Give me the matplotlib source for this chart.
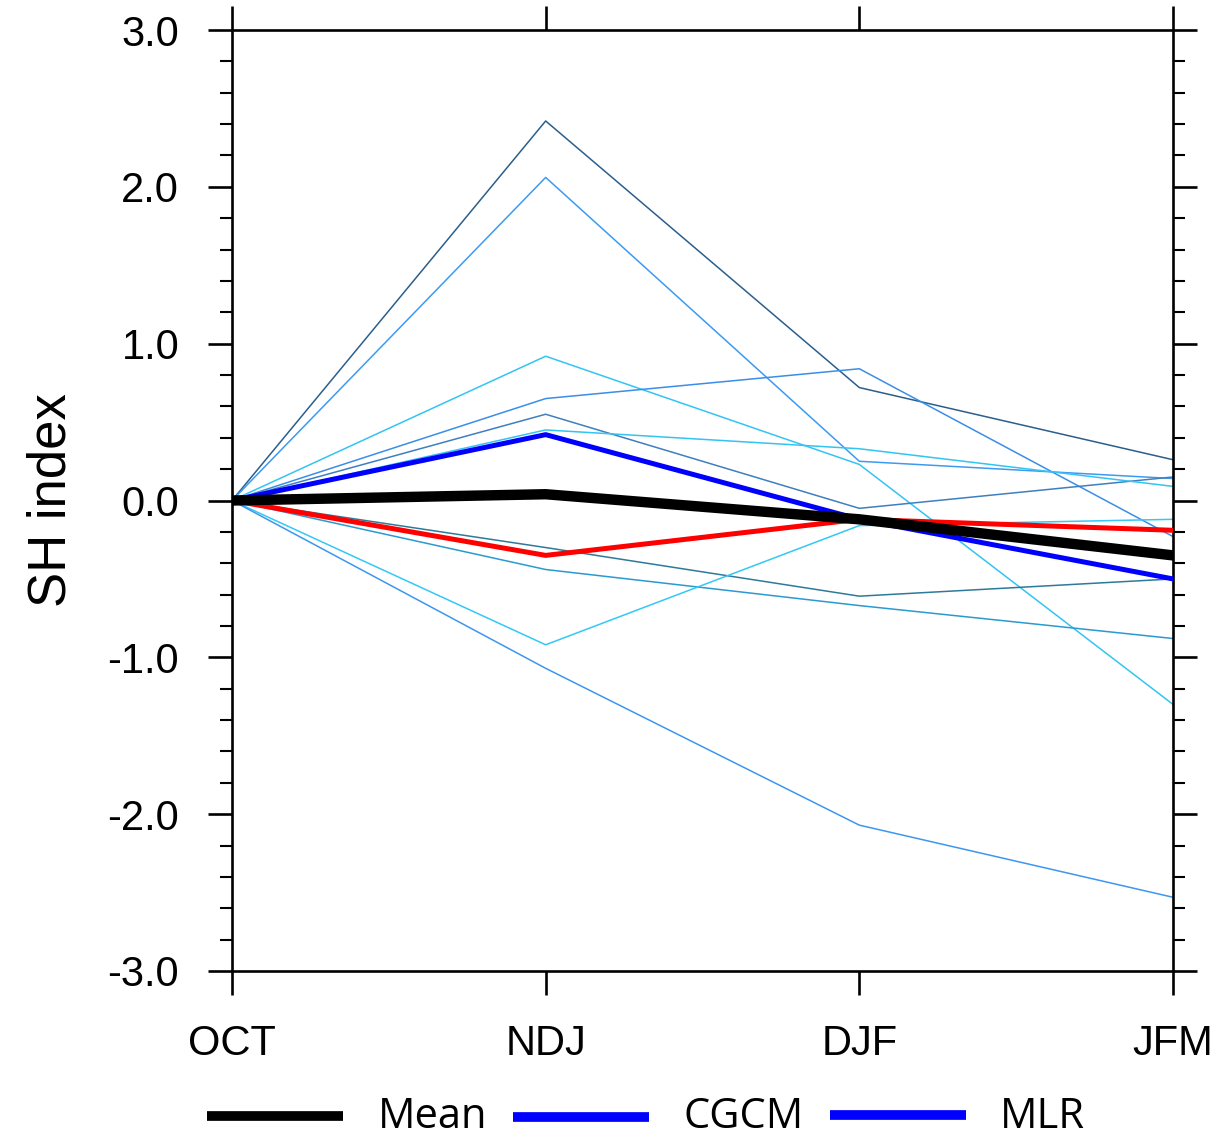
import matplotlib
matplotlib.use("Agg")
import matplotlib.pyplot as plt
from matplotlib.lines import Line2D
from matplotlib.ticker import MultipleLocator

seasons = ["OCT", "NDJ", "DJF", "JFM"]

members = [
    [0.0, 2.42, 0.72, 0.26],
    [0.0, 2.06, 0.25, 0.14],
    [0.0, 0.92, 0.23, -1.30],
    [0.0, 0.65, 0.84, -0.23],
    [0.0, 0.55, -0.05, 0.15],
    [0.0, 0.45, 0.33, 0.09],
    [0.0, -0.30, -0.61, -0.50],
    [0.0, -0.44, -0.67, -0.88],
    [0.0, -0.92, -0.16, -0.12],
    [0.0, -1.07, -2.07, -2.53],
]
member_colors = ["#2c5e8c", "#3d9af2", "#33c4f3", "#3a8ee8", "#3f7fc0",
                 "#33c4f3", "#2d7a9a", "#2a9ad0", "#33c8f5", "#3d96f0"]

mlr = [0.0, 0.42, -0.12, -0.50]
cgcm = [0.0, -0.35, -0.12, -0.19]
mean = [0.0, 0.04, -0.12, -0.35]

legend_labels = ["Mean", "CGCM", "MLR"]
legend_colors = ["black", "#0000ff", "#0000ff"]

fig = plt.figure(figsize=(12.23, 11.39), dpi=100)
ax = fig.add_axes([232/1223, 1 - 971/1139, (1173-232)/1223, (971-30)/1139])

x = list(range(len(seasons)))
for vals, c in zip(members, member_colors):
    ax.plot(x, vals, color=c, lw=1.1, zorder=2)
ax.plot(x, cgcm, color="#ff0000", lw=3.6, zorder=3)
ax.plot(x, mlr, color="#0000ff", lw=3.6, zorder=3)
ax.plot(x, mean, color="black", lw=7.5, solid_capstyle="round", zorder=4)

ax.set_xlim(0, 3)
ax.set_ylim(-3, 3)
ax.set_xticks(x)
ax.set_xticklabels(seasons, fontfamily="Liberation Sans", fontsize=30)
ax.yaxis.set_major_locator(MultipleLocator(1.0))
ax.yaxis.set_minor_locator(MultipleLocator(0.2))
ax.set_yticks([-3, -2, -1, 0, 1, 2, 3])
ax.set_yticklabels(["%.1f" % v for v in [-3, -2, -1, 0, 1, 2, 3]],
                   fontfamily="Liberation Sans", fontsize=30)

ax.tick_params(axis="both", which="major", direction="out", length=17, width=1.9,
               top=True, right=True)
ax.tick_params(axis="y", which="minor", direction="out", length=8.5, width=1.5,
               left=True, right=True)
ax.tick_params(axis="x", which="major", pad=21)
ax.tick_params(axis="y", which="major", pad=21)
for s in ax.spines.values():
    s.set_linewidth(1.9)

ax.set_ylabel("SH index", fontfamily="Liberation Sans", fontsize=38, labelpad=22)

# legend drawn manually along the bottom
lx = [207/1223, 513/1223, 830/1223]
ly = [1 - 1116/1139, 1 - 1117/1139, 1 - 1115/1139]
tx = [378/1223, 683/1223, 1000/1223]
for i in range(3):
    fig.add_artist(Line2D([lx[i], lx[i] + 136/1223], [ly[i], ly[i]],
                          color=legend_colors[i], lw=7, solid_capstyle="butt",
                          transform=fig.transFigure))
    fig.text(tx[i], 1 - 1117/1139, legend_labels[i], fontfamily="Open Sans",
             fontsize=30, va="center", ha="left", transform=fig.transFigure)

fig.savefig("out.png", dpi=100)
